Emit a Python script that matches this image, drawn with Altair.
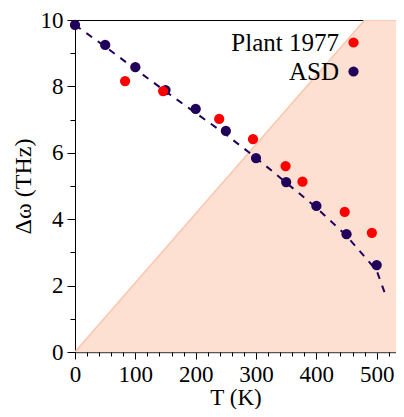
import altair as alt
import pandas as pd

# ASD data
T_asd = [0, 50, 100, 150, 200, 250, 300, 350, 400, 450, 500]
w_asd = [9.85, 9.25, 8.58, 7.89, 7.32, 6.66, 5.84, 5.12, 4.40, 3.55, 2.62]
# Plant 1977 data
T_plant = [83, 146, 239, 295, 349, 377, 447, 492]
w_plant = [8.16, 7.86, 7.02, 6.41, 5.60, 5.13, 4.22, 3.59]
# dashed fit curve
T_fit = [0, 50, 100, 150, 200, 250, 300, 350, 400, 450, 500, 513]
w_fit = [9.85, 9.2, 8.52, 7.85, 7.2, 6.55, 5.85, 5.1, 4.35, 3.5, 2.45, 1.8]
# shaded region boundary
T_shade = [0, 480, 550]
w_shade = [0, 10, 10]

series_names = ["Plant 1977", "ASD"]
series_colors = ["#ff0000", "#20005a"]

x_major = [0, 100, 200, 300, 400, 500]
x_minor = [v for v in range(20, 533, 20) if v % 100 != 0]
y_major = [0, 2, 4, 6, 8, 10]
y_minor = [1, 3, 5, 7, 9]

FONT = "Liberation Serif"

pts = pd.DataFrame(
    {"T": T_asd + T_plant,
     "w": w_asd + w_plant,
     "series": ["ASD"] * len(T_asd) + ["Plant 1977"] * len(T_plant)}
)
fit = pd.DataFrame({"T": T_fit, "w": w_fit})
shade = pd.DataFrame({"T": T_shade, "w": w_shade})

xscale = alt.Scale(domain=[0, 532], nice=False, zero=False)
yscale = alt.Scale(domain=[0, 10], nice=False)

area = alt.Chart(shade).mark_area(
    color="#fde0d2", opacity=1, clip=True,
    line={"color": "#fcc6ad", "strokeWidth": 1.5}
).encode(
    x=alt.X("T:Q", scale=xscale,
            axis=alt.Axis(orient="bottom", values=x_major, tickSize=7, tickColor="black",
                          domainColor="#555555", domainWidth=1.5, labelFontSize=23,
                          labelColor="black", labelPadding=4, title="T (K)",
                          titleFontSize=23, titleFontWeight="normal", titleColor="black",
                          titleY=52, titleBaseline="alphabetic",
                          grid=False, labelFlush=False)),
    y=alt.Y("w:Q", scale=yscale,
            axis=alt.Axis(orient="left", values=y_major, tickSize=8, tickColor="black",
                          domainColor="black", domainWidth=1, labelFontSize=23,
                          labelColor="black", labelPadding=4, labelBaseline="middle",
                          labelOffset=0, title="Δω (THz)", titleFontSize=24,
                          titleFontWeight="normal", titleColor="black", titlePadding=5,
                          grid=False, labelFlush=False)),
)

line = alt.Chart(fit).mark_line(
    color="#20005a", strokeWidth=2, strokeDash=[7, 7]
).encode(
    x=alt.X("T:Q", scale=xscale,
            axis=alt.Axis(orient="bottom", values=x_minor, tickSize=4, tickColor="black",
                          labels=False, domain=False, title=None, grid=False)),
    y=alt.Y("w:Q", scale=yscale,
            axis=alt.Axis(orient="left", values=y_minor, tickSize=5, tickColor="black",
                          labels=False, domain=False, title=None, grid=False)),
)

points = alt.Chart(pts).mark_circle(size=105, opacity=1).encode(
    x=alt.X("T:Q", scale=xscale,
            axis=alt.Axis(orient="top", labels=False, ticks=False, domainColor="black",
                          domainWidth=1.2, title=None, grid=False)),
    y=alt.Y("w:Q", scale=yscale, axis=None),
    color=alt.Color("series:N",
                    scale=alt.Scale(domain=series_names, range=series_colors),
                    legend=alt.Legend(title=None, orient="none", legendX=266, legendY=10,
                                      symbolType="circle", symbolSize=105,
                                      symbolStrokeWidth=0, labelFontSize=25,
                                      labelColor="black", labelAlign="right",
                                      labelOffset={"expr": "-27"}, rowPadding=3, padding=0,
                                      labelLimit=300)),
)

chart = alt.layer(area, line, points).resolve_axis(
    x="independent", y="independent"
).properties(
    width=321, height=332,
    autosize="none",
    padding={"left": 67, "top": 12, "right": 0, "bottom": 57},
).configure(font=FONT).configure_view(stroke=None).configure_legend(
    labelFont=FONT
).configure_axis(labelFont=FONT, titleFont=FONT)

chart.save("out.html", embed_options={"renderer": "svg", "actions": False})
